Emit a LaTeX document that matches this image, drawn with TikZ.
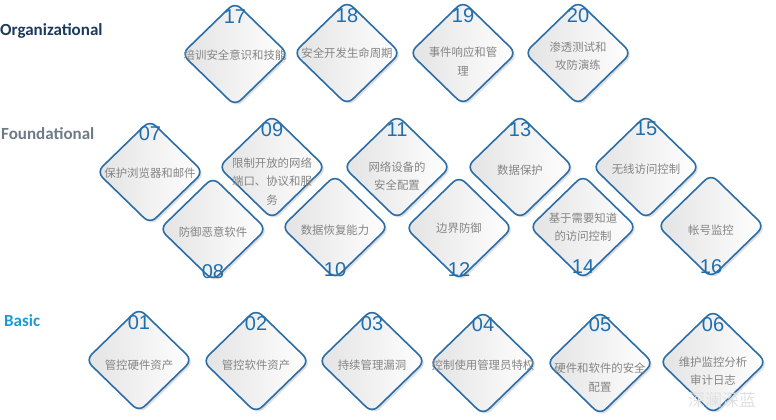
\documentclass[tikz,border=0pt]{standalone}
\usepackage{fontspec}
\newfontfamily\cjk{Noto Sans CJK SC}
\newfontfamily\numfont{Liberation Sans}
\newfontfamily\headfont{Carlito}
\usetikzlibrary{
  shapes.geometric,
  shadows
}
\definecolor{rimblue}{HTML}{2B6DA6}
\definecolor{numblue}{HTML}{1F6FAE}
\definecolor{txtgray}{HTML}{858585}
\definecolor{orgcol}{HTML}{1C3A5E}
\definecolor{fndcol}{HTML}{6E7B87}
\definecolor{bascol}{HTML}{1C9AD6}

\begin{document}
\begin{tikzpicture}[
  x=1pt, y=-1pt,
  dia/.style = {shape=diamond, rounded corners=8pt,
    draw=rimblue, line width=1.6pt,
    minimum width=107pt, minimum height=104pt, inner sep=0pt,
    left color=black!11, right color=white,
    drop shadow={shadow xshift=2pt, shadow yshift=-2pt, opacity=.25}},
  num/.style = {font=\numfont\fontsize{20}{20}\selectfont, text=numblue, inner sep=0pt},
  txt/.style = {font=\cjk\fontsize{11.4}{18.5}\selectfont, text=txtgray,
    align=center, inner sep=0pt},
  head/.style = {font=\headfont\bfseries\fontsize{17}{17}\selectfont,
    anchor=west, inner sep=0pt}]
  \useasboundingbox (0,0) rectangle (776,420);

  % row titles
  \node[head, text=orgcol] (org) at (0,31) {Organizational};
  \node[head, text=fndcol] (fnd) at (1,134) {Foundational};
  \node[head, text=bascol] (bas) at (4,321) {Basic};

  % Organizational
  \node[dia] (d17) at (235,54) {};
  \node[num] (n17) at ([yshift=-15pt]d17.north) {17};
  \node[txt] (t17) at ([yshift=-1pt]d17.center) {培训安全意识和技能};
  \node[dia] (d18) at (347,53) {};
  \node[num] (n18) at ([yshift=-15pt]d18.north) {18};
  \node[txt] (t18) at (d18.center) {安全开发生命周期};
  \node[dia] (d19) at (463,53) {};
  \node[num] (n19) at ([yshift=-15pt]d19.north) {19};
  \node[txt] (t19) at ([yshift=-8.5pt]d19.center) {事件响应和管\\理};
  \node[dia] (d20) at (578,53) {};
  \node[num] (n20) at ([yshift=-15pt]d20.north) {20};
  \node[txt] (t20) at ([yshift=-3pt]d20.center) {渗透测试和\\攻防演练};

  % Foundational, upper
  \node[dia] (d07) at (150,172) {};
  \node[num] (n07) at ([yshift=-14pt]d07.north) {07};
  \node[txt] (t07) at ([yshift=-1pt]d07.center) {保护浏览器和邮件};
  \node[dia] (d09) at (272,167) {};
  \node[num] (n09) at ([yshift=-15pt]d09.north) {09};
  \node[txt] (t09) at ([yshift=-14.5pt]d09.center) {限制开放的网络\\端口、协议和服\\务};
  \node[dia] (d11) at (397,167) {};
  \node[num] (n11) at ([yshift=-15pt]d11.north) {11};
  \node[txt] (t11) at ([yshift=-9pt]d11.center) {网络设备的\\安全配置};
  \node[dia] (d13) at (520,167) {};
  \node[num] (n13) at ([yshift=-15pt]d13.north) {13};
  \node[txt] (t13) at ([yshift=-3pt]d13.center) {数据保护};
  \node[dia] (d15) at (646,167) {};
  \node[num] (n15) at ([yshift=-15pt]d15.north) {15};
  \node[txt] (t15) at ([yshift=-2pt]d15.center) {无线访问控制};

  % Foundational, lower
  \node[dia] (d08) at (213,229) {};
  \node[num] (n08) at ([yshift=10pt]d08.south) {08};
  \node[txt] (t08) at ([yshift=-3pt]d08.center) {防御恶意软件};
  \node[dia] (d10) at (335,227) {};
  \node[num] (n10) at ([yshift=10pt]d10.south) {10};
  \node[txt] (t10) at ([yshift=-3pt]d10.center) {数据恢复能力};
  \node[dia] (d12) at (459,228) {};
  \node[num] (n12) at ([yshift=11pt]d12.south) {12};
  \node[txt] (t12) at (d12.center) {边界防御};
  \node[dia] (d14) at (583,227) {};
  \node[num] (n14) at ([yshift=13pt]d14.south) {14};
  \node[txt] (t14) at (d14.center) {基于需要知道\\的访问控制};
  \node[dia] (d16) at (711,226) {};
  \node[num] (n16) at ([yshift=12pt]d16.south) {16};
  \node[txt] (t16) at ([yshift=-4pt]d16.center) {帐号监控};

  % Basic
  \node[dia] (d01) at (139,360) {};
  \node[num] (n01) at ([yshift=-15pt]d01.north) {01};
  \node[txt] (t01) at ([yshift=-5pt]d01.center) {管控硬件资产};
  \node[dia] (d02) at (256,361) {};
  \node[num] (n02) at ([yshift=-15pt]d02.north) {02};
  \node[txt] (t02) at ([yshift=-4pt]d02.center) {管控软件资产};
  \node[dia] (d03) at (372,361) {};
  \node[num] (n03) at ([yshift=-15pt]d03.north) {03};
  \node[txt] (t03) at ([yshift=-4pt]d03.center) {持续管理漏洞};
  \node[dia] (d04) at (483,363) {};
  \node[num] (n04) at ([yshift=-14pt]d04.north) {04};
  \node[txt] (t04) at ([yshift=-2pt]d04.center) {控制使用管理员特权};
  \node[dia] (d05) at (600,363) {};
  \node[num] (n05) at ([yshift=-14pt]d05.north) {05};
  \node[txt] (t05) at ([yshift=-14.5pt]d05.center) {硬件和软件的安全\\配置};
  \node[dia] (d06) at (713,362) {};
  \node[num] (n06) at ([yshift=-15pt]d06.north) {06};
  \node[txt] (t06) at ([yshift=-9pt]d06.center) {维护监控分析\\审计日志};

  \node[font=\cjk\fontsize{17}{17}\selectfont, text=black!12, inner sep=0pt]
    (mark) at (722,400) {深澜深蓝};
\end{tikzpicture}
\end{document}
